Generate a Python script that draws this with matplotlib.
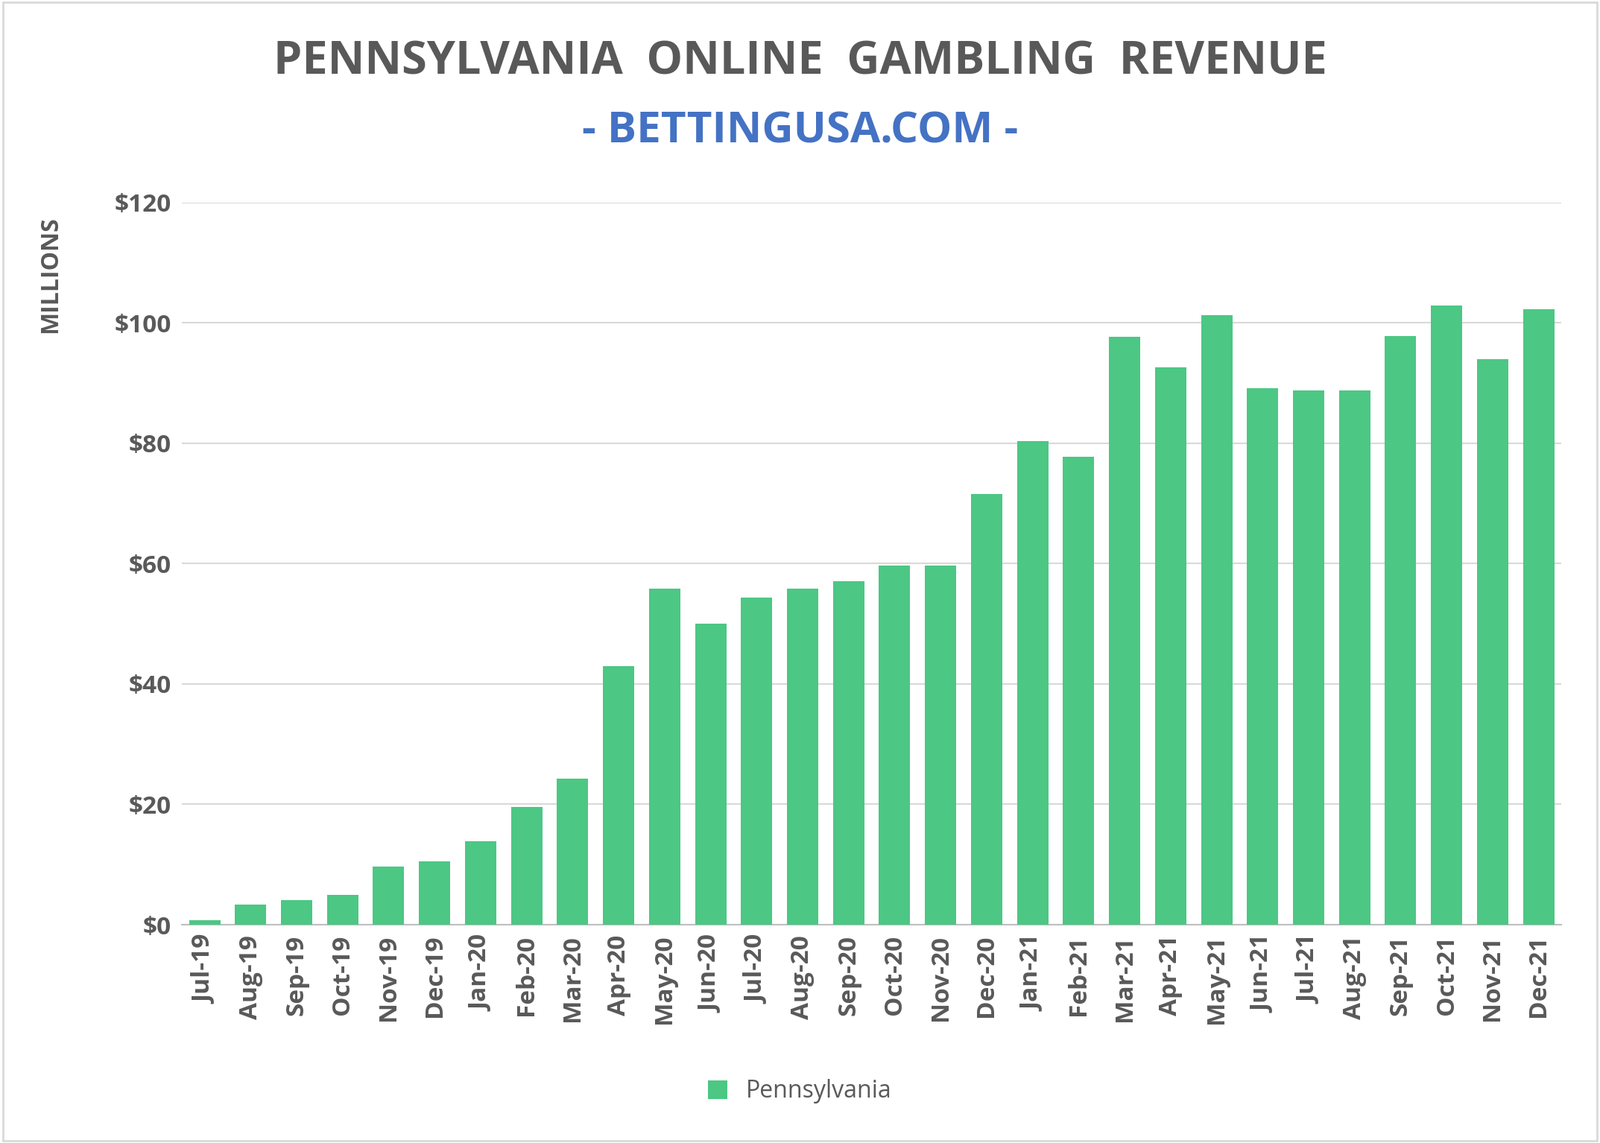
import matplotlib
matplotlib.use("Agg")
import matplotlib.pyplot as plt
from matplotlib.patches import Rectangle

months = ["Jul-19","Aug-19","Sep-19","Oct-19","Nov-19","Dec-19","Jan-20","Feb-20","Mar-20","Apr-20",
          "May-20","Jun-20","Jul-20","Aug-20","Sep-20","Oct-20","Nov-20","Dec-20","Jan-21","Feb-21",
          "Mar-21","Apr-21","May-21","Jun-21","Jul-21","Aug-21","Sep-21","Oct-21","Nov-21","Dec-21"]
revenue = [0.8,3.4,4.1,4.9,9.6,10.5,13.9,19.5,24.2,43.0,
           55.8,50.0,54.4,55.8,57.0,59.7,59.7,71.5,80.3,77.7,
           97.6,92.6,101.2,89.1,88.7,88.7,97.8,102.9,93.9,102.2]
yticks = [0,20,40,60,80,100,120]

plt.rcParams["font.family"] = "Open Sans"
fig = plt.figure(figsize=(21.47,15.34), dpi=100)
ax = fig.add_axes([0.1135,0.191,0.8625,0.632])
x = range(len(months))
ax.bar(x, revenue, width=0.68, color="#4CC784", label="Pennsylvania", zorder=3)
ax.set_xlim(-0.5, len(months)-0.5)
ax.set_ylim(0,120)
ax.set_yticks(yticks)
ax.set_yticklabels([f"${v}" for v in yticks], fontsize=24, fontweight="bold", color="#595959")
ax.set_xticks(list(x))
ax.set_xticklabels(months, rotation=90, fontsize=24, fontweight="bold", color="#595959")
ax.tick_params(length=0, pad=10)
ax.grid(axis="y", color="#D9D9D9", lw=1.5, zorder=0)
for s in ["top","right","left"]:
    ax.spines[s].set_visible(False)
ax.spines["bottom"].set_color("#BFBFBF")
ax.spines["bottom"].set_linewidth(1.5)
ax.set_ylabel("MILLIONS", fontsize=23, fontweight="bold", color="#595959")
ax.yaxis.set_label_coords(-0.086, 0.9)
fig.text(0.5, 0.945, "PENNSYLVANIA  ONLINE  GAMBLING  REVENUE", ha="center", va="center",
         fontsize=44, fontweight="bold", color="#595959")
fig.text(0.5, 0.885, "- BETTINGUSA.COM -", ha="center", va="center",
         fontsize=42, fontweight="bold", color="#4472C4")
fig.legend(loc="center", bbox_to_anchor=(0.5, 0.045), frameon=False, fontsize=23,
           handlelength=0.8, handleheight=0.8, labelcolor="#595959")
fig.patches.append(Rectangle((0.002,0.002),0.996,0.996, transform=fig.transFigure,
                             fill=False, edgecolor="#D9D9D9", lw=2))
fig.savefig("out.png", dpi=100)
